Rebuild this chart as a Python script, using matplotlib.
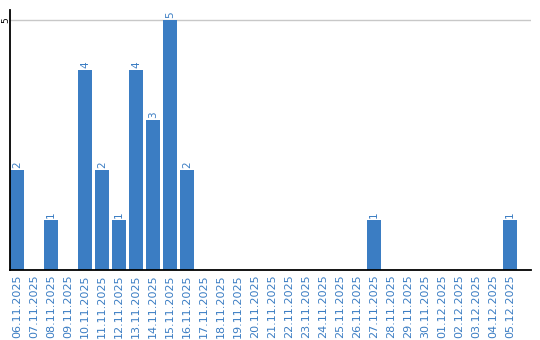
import matplotlib
matplotlib.use("Agg")
import matplotlib.pyplot as plt

dates = ["06.11.2025", "07.11.2025", "08.11.2025", "09.11.2025", "10.11.2025",
         "11.11.2025", "12.11.2025", "13.11.2025", "14.11.2025", "15.11.2025",
         "16.11.2025", "17.11.2025", "18.11.2025", "19.11.2025", "20.11.2025",
         "21.11.2025", "22.11.2025", "23.11.2025", "24.11.2025", "25.11.2025",
         "26.11.2025", "27.11.2025", "28.11.2025", "29.11.2025", "30.11.2025",
         "01.12.2025", "02.12.2025", "03.12.2025", "04.12.2025", "05.12.2025"]
counts = [2, 0, 1, 0, 4, 2, 1, 4, 3, 5, 2, 0, 0, 0, 0,
          0, 0, 0, 0, 0, 0, 1, 0, 0, 0, 0, 0, 0, 0, 1]
y_ticks = [5]

blue = "#3b7dc3"

fig = plt.figure(figsize=(5.4, 3.4), dpi=100)
ax = fig.add_axes([10 / 540, 70 / 340, 521 / 540, 260 / 340])

x = list(range(len(dates)))
width = 14 / 17
ax.bar(x, counts, width=width, color=blue, zorder=2)

# value labels above non-zero bars
for xi, v in zip(x, counts):
    if v > 0:
        ax.text(xi, v + 0.04, str(v), rotation=90, ha="center", va="bottom",
                color=blue, fontsize=7.5)

ax.set_xlim(-width / 2, 30.24)
ax.set_ylim(0, 5.2)

ax.set_xticks(x)
ax.set_xticklabels(dates, rotation=90, color=blue, fontsize=8)
ax.set_yticks(y_ticks)
ax.set_yticklabels([str(t) for t in y_ticks], rotation=90, va="center", fontsize=6.5)
ax.tick_params(axis="x", length=0, pad=3)
ax.tick_params(axis="y", length=0, pad=0)

ax.yaxis.grid(True, color="#c8c8c8", linewidth=1, zorder=1)
ax.set_axisbelow(True)

for s in ["top", "right"]:
    ax.spines[s].set_visible(False)
for s in ["left", "bottom"]:
    ax.spines[s].set_linewidth(1.3)
    ax.spines[s].set_color("black")
    ax.spines[s].set_zorder(3)

fig.savefig("out.png", dpi=100)
